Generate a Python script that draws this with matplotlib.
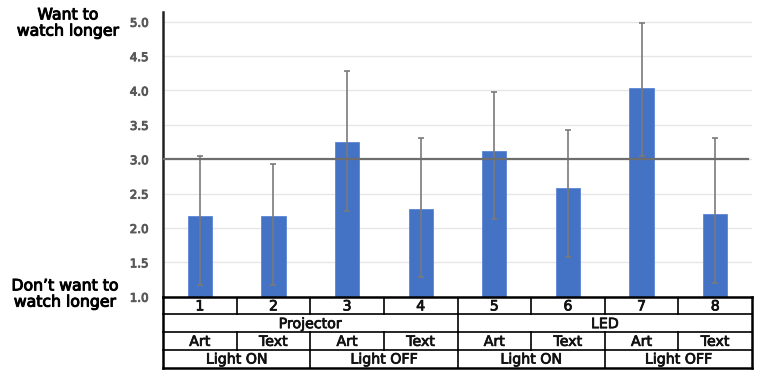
import matplotlib.pyplot as plt
import matplotlib.patheffects as pe
import numpy as np

plt.rcParams['font.family'] = ['DejaVu Sans', 'Noto Sans CJK JP']

# Mean rating per condition and the ends of each error bar
conditions = ['1', '2', '3', '4', '5', '6', '7', '8']
means = [2.17, 2.17, 3.25, 2.28, 3.12, 2.58, 4.04, 2.20]
upper_end = [3.04, 2.93, 4.28, 3.31, 3.98, 3.42, 4.98, 3.31]
lower_end = [1.17, 1.17, 2.24, 1.29, 2.13, 1.58, 3.05, 1.20]

# Category rows of the table below the bars: (label, first column, span)
display_row = [('Projector', 0, 4), ('LED', 4, 4)]
content_row = ['Art', 'Text', 'Art', 'Text', 'Art', 'Text', 'Art', 'Text']
light_row = [('Light ON', 0, 2), ('Light OFF', 2, 2), ('Light ON', 4, 2), ('Light OFF', 6, 2)]

yticks = [1.0, 1.5, 2.0, 2.5, 3.0, 3.5, 4.0, 4.5, 5.0]

W, H = 758, 373
fig = plt.figure(figsize=(W / 100, H / 100), dpi=100)

# slightly heavier than regular weight
def heavy(color, w=0.55):
    return [pe.withStroke(linewidth=w, foreground=color)]

# pixel layout helpers
def px_box(x0, y0, x1, y1):
    return [x0 / W, 1 - y1 / H, (x1 - x0) / W, (y1 - y0) / H]

ax = fig.add_axes(px_box(163, 11.7, 752, 296.7))
x = np.arange(len(conditions))
means_a = np.array(means)
yerr = [means_a - np.array(lower_end), np.array(upper_end) - means_a]

ax.bar(x, means_a - 1.0, bottom=1.0, width=0.33, color='#4472C4',
       edgecolor='#5b86d6', linewidth=0.6, zorder=2)
ax.errorbar(x, means_a, yerr=yerr, fmt='none', ecolor='#7a7a7a',
            elinewidth=1.2, capsize=2.5, capthick=1.2, zorder=3)

ax.axhline(3.0, color='#6e6e6e', linewidth=1.6, zorder=4, xmax=0.993)

ax.set_xlim(-0.5, 7.5)
ax.set_ylim(1.0, 5.146)
ax.set_yticks(yticks)
ax.set_yticklabels([f'{v:.1f}' for v in yticks], color='#595959', fontsize=8.5)
for lab in ax.get_yticklabels():
    lab.set_path_effects(heavy('#595959', 0.7))
ax.tick_params(axis='y', length=0, pad=10.5)
ax.set_xticks([])
ax.grid(axis='y', color='#e6e6e6', linewidth=1.0, zorder=0)
for side in ['top', 'right', 'bottom']:
    ax.spines[side].set_visible(False)
ax.spines['left'].set_linewidth(1.8)
ax.spines['left'].set_color('#222222')

# Table of condition labels under the plot
tab = fig.add_axes(px_box(163, 296.7, 752, 367.5))
tab.set_xlim(-0.5, 7.5)
tab.set_ylim(4, 0)
tab.axis('off')

lw_in = 1.2
lw_out = 1.8
for r in range(5):
    lw = lw_out if r in (0, 4) else lw_in
    tab.plot([-0.5, 7.5], [r, r], color='black', lw=lw, clip_on=False)
tab.plot([-0.5, -0.5], [0, 4], color='black', lw=lw_out, clip_on=False)
tab.plot([7.5, 7.5], [0, 4], color='black', lw=lw_out, clip_on=False)

def cell(row, start, span, text):
    tab.text(start - 0.5 + span / 2, row + 0.55, text, ha='center', va='center',
             fontsize=10.2, color='#111111', path_effects=heavy('#111111'))

def dividers(row, starts):
    for s in starts:
        tab.plot([s - 0.5, s - 0.5], [row, row + 1], color='black', lw=lw_in)

for i, c in enumerate(conditions):
    cell(0, i, 1, c)
dividers(0, range(1, 8))
for text, start, span in display_row:
    cell(1, start, span, text)
dividers(1, [4])
for i, c in enumerate(content_row):
    cell(2, i, 1, c)
dividers(2, range(1, 8))
for text, start, span in light_row:
    cell(3, start, span, text)
dividers(3, [2, 4, 6])

# Scale end labels on the left
fig.text(68 / W, 1 - 23 / H, 'Want to\nwatch longer', ha='center', va='center',
         fontsize=11.3, linespacing=1.1, path_effects=heavy('black', 0.7))
fig.text(65 / W, 1 - 294 / H, 'Don’t want to\nwatch longer', ha='center',
         va='center', fontsize=11.3, linespacing=1.1,
         path_effects=heavy('black', 0.7))

fig.savefig('out.png', dpi=100)
